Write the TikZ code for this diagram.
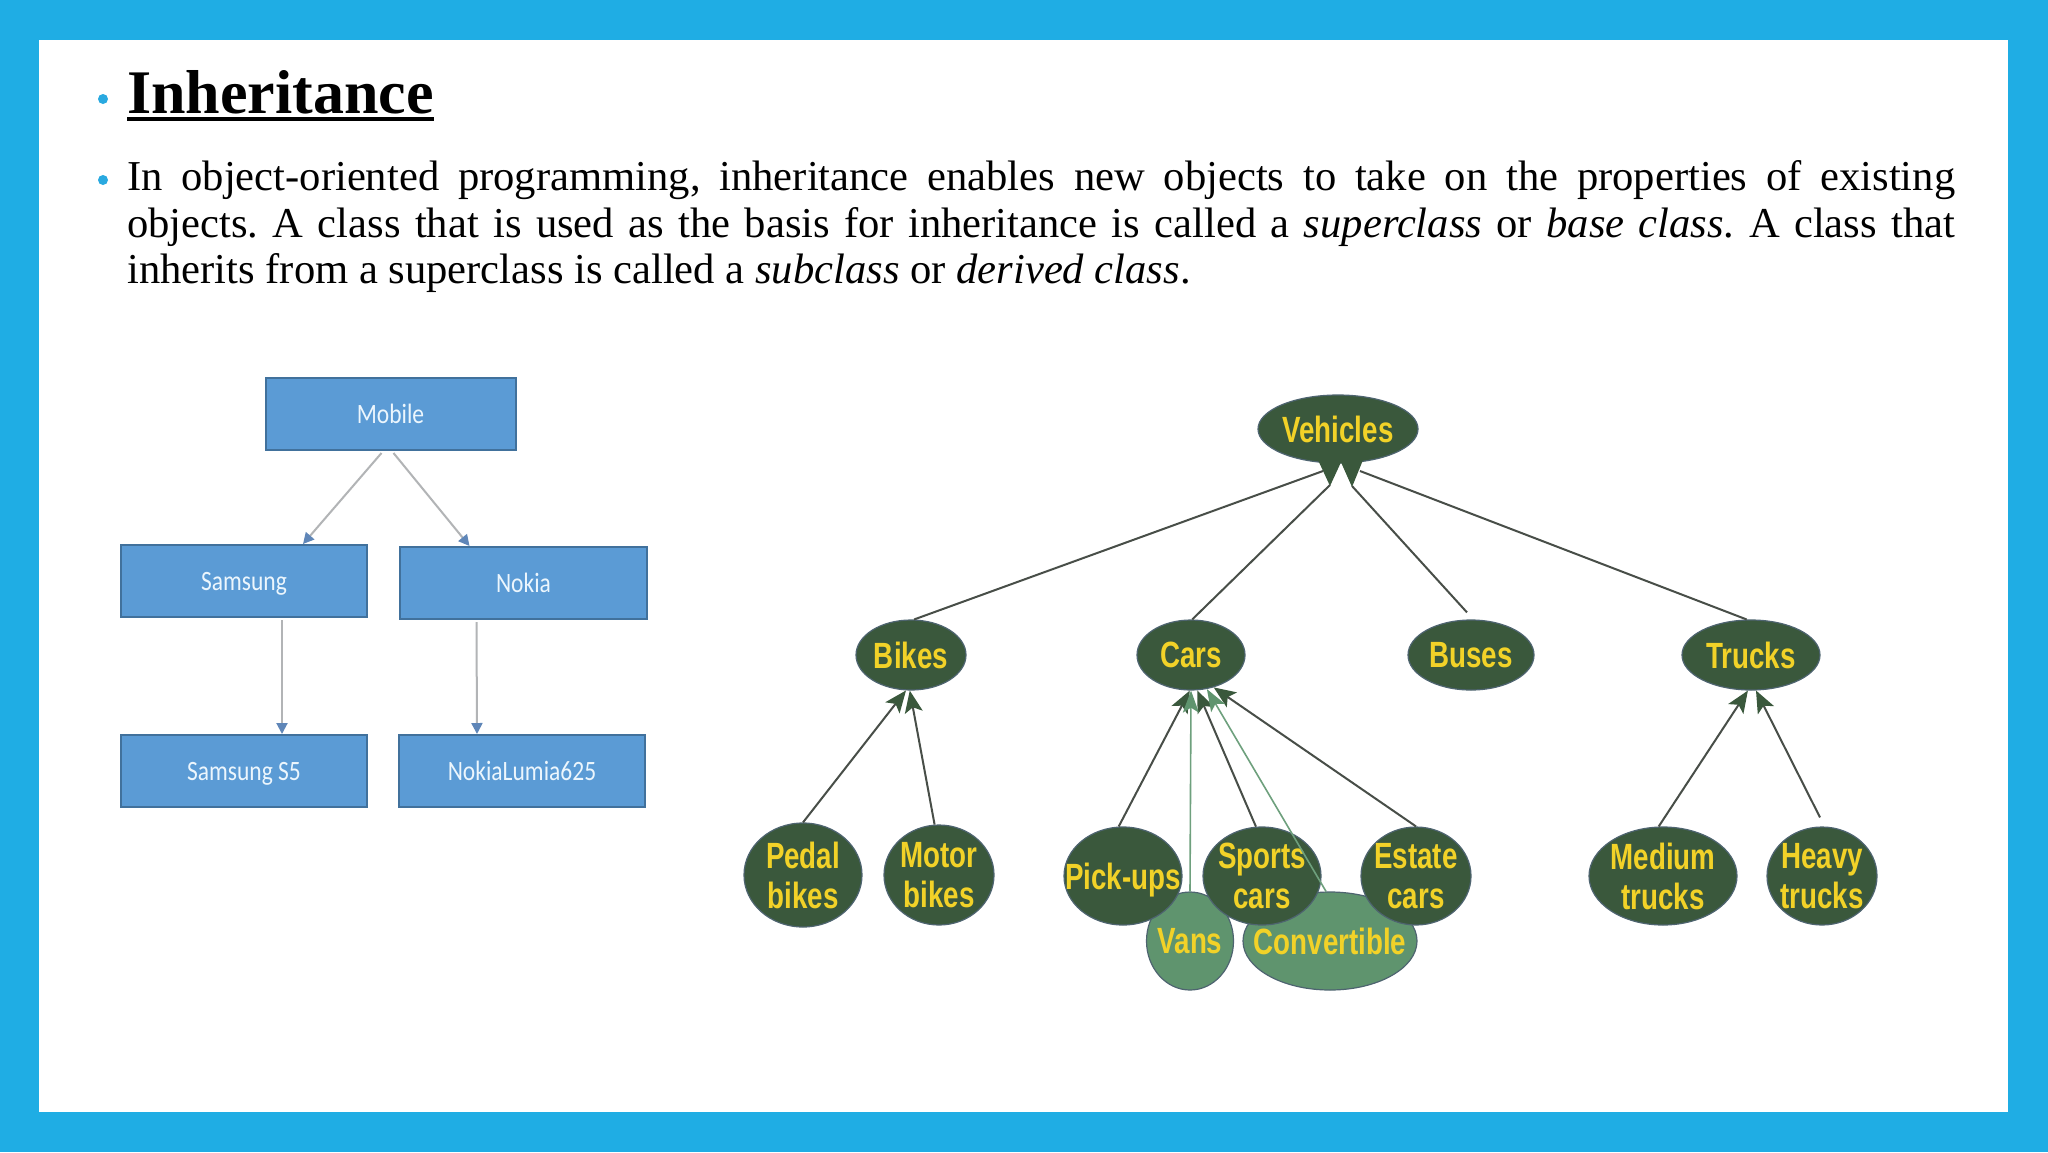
\documentclass[tikz,border=0pt]{standalone}
\usepackage{fontspec}
\setmainfont{Liberation Serif}
\newfontfamily\vfont[FakeStretch=0.76]{Liberation Sans}
\newfontfamily\cfont[FakeStretch=0.84]{Carlito}
\usetikzlibrary{shapes.geometric,arrows.meta,calc}
\definecolor{frameblue}{RGB}{31,173,228}
\definecolor{bulletc}{RGB}{41,169,224}
\definecolor{boxblue}{RGB}{91,155,213}
\definecolor{boxborder}{RGB}{65,113,156}
\definecolor{boxtext}{RGB}{236,246,253}
\definecolor{mgray}{RGB}{178,180,182}
\definecolor{marrow}{RGB}{95,134,184}
\definecolor{dg}{RGB}{58,88,60}
\definecolor{lg}{RGB}{95,148,110}
\definecolor{ellborder}{RGB}{78,100,112}
\definecolor{ytext}{RGB}{242,210,40}
\definecolor{dlinec}{RGB}{72,78,72}
\definecolor{llinec}{RGB}{110,160,125}
\tikzset{
  mbox/.style={rectangle, draw=boxborder, line width=2pt, fill=boxblue,
    minimum width=246pt, minimum height=72pt, inner sep=0pt,
    font=\cfont\fontsize{28}{32}\selectfont, text=boxtext, text depth=0pt},
  vell/.style={ellipse, draw=ellborder, line width=1.2pt, fill=dg, inner sep=0pt},
  lell/.style={ellipse, draw=ellborder, line width=1.2pt, fill=lg, inner sep=0pt},
  vtxt/.style={font=\vfont\bfseries\fontsize{36.5}{40}\selectfont, text=ytext,
    align=center, inner sep=0pt, text depth=0pt},
  mline/.style={draw=mgray, line width=2pt, -{Triangle[length=11pt,width=11pt,color=marrow]}},
  dline/.style={draw=dlinec, line width=2pt, -{Stealth[length=22pt,width=18pt,inset=5pt,color=dg]}},
  dlinen/.style={draw=dlinec, line width=2pt},
  lline/.style={draw=llinec, line width=1.6pt, -{Stealth[length=22pt,width=16pt,inset=5pt,color=lg]}},
  btext/.style={anchor=base west, inner sep=0pt, font=\fontsize{42.6}{46}\selectfont},
}
\begin{document}
\frenchspacing
\begin{tikzpicture}[x=1pt,y=-1pt]
\useasboundingbox (0,0) rectangle (2048,1152);
\fill[frameblue] (0,0) rectangle (2048,1152);
\fill[white] (39,40) rectangle (2008,1112);

% title and body
\fill[bulletc] (103,99) circle[radius=5pt];
\node[anchor=base west, inner sep=0pt, font=\fontsize{62}{70}\selectfont\bfseries] (title) at (127,113) {Inheritance};
\draw[line width=3.5pt] ($(title.base west)+(0,6)$) -- ($(title.base east)+(0,6)$);
\fill[bulletc] (103,180) circle[radius=5pt];
\node[btext] (b1) at (127,190) {\makebox[1828pt][s]{In object-oriented programming, inheritance enables new objects to take on the properties of existing}};
\node[btext] (b2) at (127,237) {\makebox[1828pt][s]{objects. A class that is used as the basis for inheritance is called a \textit{superclass} or \textit{base class.} A class that}};
\node[btext] (b3) at (127,283) {inherits from a superclass is called a \textit{subclass} or \textit{derived class}.};

% left diagram
\node[mbox, minimum width=250pt] (mobile) at (390.5,414) {Mobile};
\node[mbox] (samsung) at (244,581) {Samsung};
\node[mbox, minimum width=247pt] (nokia) at (523.5,583) {Nokia};
\node[mbox] (s5) at (244,771) {Samsung S5};
\node[mbox] (lumia) at (522,771) {NokiaLumia625};
\draw[mline] ($(mobile.south)+(-9,2)$) -- ($(samsung.north)+(59,0)$);
\draw[mline] ($(mobile.south)+(3,2)$) -- ($(nokia.north)+(-54,0)$);
\draw[mline] ($(samsung.south)+(38,2)$) -- ($(s5.north)+(38,0)$);
\draw[mline] ($(nokia.south)+(-47,2)$) -- ($(lumia.north)+(-45,0)$);

% right diagram: nodes
\node[vell, minimum width=160pt, minimum height=68pt, label={[vtxt]center:Vehicles}] (veh) at (1338,429) {};
\fill[dg] (1318,460) -- (1342,460) -- (1330,486) -- cycle;
\fill[dg] (1340,460) -- (1363,460) -- (1352,487) -- cycle;
\node[vell, minimum width=110pt, minimum height=70pt, label={[vtxt]center:Bikes}] (bikes) at (911,655) {};
\node[vell, minimum width=108pt, minimum height=70pt, label={[vtxt]center:Cars}] (cars) at (1191,655) {};
\node[vell, minimum width=126pt, minimum height=70pt, label={[vtxt]center:Buses}] (buses) at (1471,655) {};
\node[vell, minimum width=138pt, minimum height=70pt, label={[vtxt]center:Trucks}] (trucks) at (1751,655) {};

\node[lell, minimum width=87pt, minimum height=98pt, label={[vtxt]center:Vans}] (vans) at (1190,941) {};
\node[lell, minimum width=174pt, minimum height=98pt, label={[vtxt]center:Convertible}] (conv) at (1330,941) {};

\node[vell, minimum width=118pt, minimum height=104pt, label={[vtxt]center:{Pedal\\bikes}}] (pedal) at (803,875) {};
\node[vell, minimum width=110pt, minimum height=100pt, label={[vtxt]center:{Motor\\bikes}}] (motor) at (939,875) {};
\node[vell, minimum width=118pt, minimum height=98pt, label={[vtxt]center:Pick-ups}] (pickups) at (1123,876) {};
\node[vell, minimum width=118pt, minimum height=98pt, label={[vtxt]center:{Sports\\cars}}] (sports) at (1262,876) {};
\node[vell, minimum width=110pt, minimum height=98pt, label={[vtxt]center:{Estate\\cars}}] (estate) at (1416,876) {};
\node[vell, minimum width=148pt, minimum height=98pt, label={[vtxt]center:{Medium\\trucks}}] (medium) at (1663,876) {};
\node[vell, minimum width=110pt, minimum height=98pt, label={[vtxt]center:{Heavy\\trucks}}] (heavy) at (1822,876) {};

% right diagram: connectors
\coordinate (vL1) at (1323,471);
\coordinate (vL2) at (1330,485);
\coordinate (vR1) at (1352,486);
\coordinate (vR2) at (1360,471);
\draw[dlinen] (bikes.85) -- (vL1);
\draw[dlinen] (cars.88) -- (vL2);
\draw[dlinen] ($(buses.north)+(-4,-7)$) -- (vR1);
\draw[dlinen] (trucks.97) -- (vR2);

\draw[dline] (pedal.north) -- (bikes.262);
\draw[dline] (motor.95) -- (bikes.268);
\draw[dline] (pickups.95) -- (cars.268);
\draw[dline] (sports.97) -- (cars.280);
\draw[dline] (estate.north) -- (cars.305);
\draw[dline] (medium.95) -- (trucks.265);
\draw[dline] ($(heavy.north)+(-2,-9)$) -- (trucks.278);
\draw[lline] (vans.north) -- (cars.south);
\draw[lline] ($(conv.north)+(-4,0)$) -- (cars.295);
\end{tikzpicture}
\end{document}
